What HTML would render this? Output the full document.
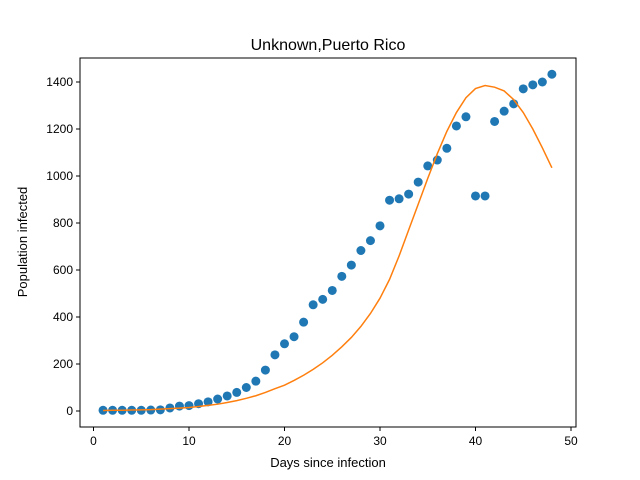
<!DOCTYPE html>
<html><head><meta charset="utf-8"><style>body{margin:0;background:#fff}svg{display:block;font-family:"Liberation Sans","DejaVu Sans",sans-serif}</style></head>
<body>
<svg id="chart" width="640" height="480">
<rect width="640" height="480" fill="#fff"/>
<text x="328" y="50" text-anchor="middle" font-size="16">Unknown,Puerto Rico</text>
<g id="marks"></g>
<rect x="80" y="58" width="496" height="369" fill="none" stroke="#000" stroke-width="1"/>
<g id="axes" font-size="12"></g>
<text x="328" y="467" text-anchor="middle" font-size="13">Days since infection</text>
<text transform="translate(27,242) rotate(-90)" text-anchor="middle" font-size="13">Population infected</text>
</svg>
<script>
const days = Array.from({length:48},(_,i)=>i+1);
const observed = [3,3,3,3,3,4,5,13,21,23,31,39,51,64,79,100,127,174,239,286,316,378,452,475,513,573,621,683,725,788,897,903,923,974,1043,1068,1118,1213,1252,915,915,1232,1276,1307,1371,1388,1400,1433];
const fitted = [2,3,3,4,5,6,8,10,12,15,19,24,29,36,44,54,65,79,95,110,130,152,177,205,237,273,313,360,415,480,560,660,770,880,990,1095,1190,1270,1333,1372,1385,1378,1362,1325,1270,1200,1120,1035];
const xTicks = [0,10,20,30,40,50];
const yTicks = [0,200,400,600,800,1000,1200,1400];
const NS="http://www.w3.org/2000/svg";
const xs = v => 93.5 + v*9.55;
const ys = v => 411 - v*0.235;
const marks=document.getElementById('marks'), axes=document.getElementById('axes');
function mk(t,a,p){const e=document.createElementNS(NS,t);for(const k in a)e.setAttribute(k,a[k]);p.appendChild(e);return e;}
observed.forEach((v,i)=>{
  const c=mk('circle',{cx:xs(days[i]),cy:ys(v),r:4.5,fill:'#1f77b4'},marks);
  
  
});
const line=mk('polyline',{points:fitted.map((v,i)=>xs(days[i])+','+ys(v)).join(' '),fill:'none',stroke:'#ff7f0e','stroke-width':1.5},marks);


xTicks.forEach(t=>{
  const x=xs(t);
  const l=mk('line',{x1:x,x2:x,y1:427,y2:431,stroke:'#000'},axes);
  
  
  const tx=mk('text',{x:x,y:445,'text-anchor':'middle'},axes);tx.textContent=t;
  
  
});
yTicks.forEach(t=>{
  const y=ys(t);
  const l=mk('line',{x1:76,x2:80,y1:y,y2:y,stroke:'#000'},axes);
  
  
  const tx=mk('text',{x:73,y:y+4,'text-anchor':'end'},axes);tx.textContent=t;
  
  
});
</script>
</body></html>
